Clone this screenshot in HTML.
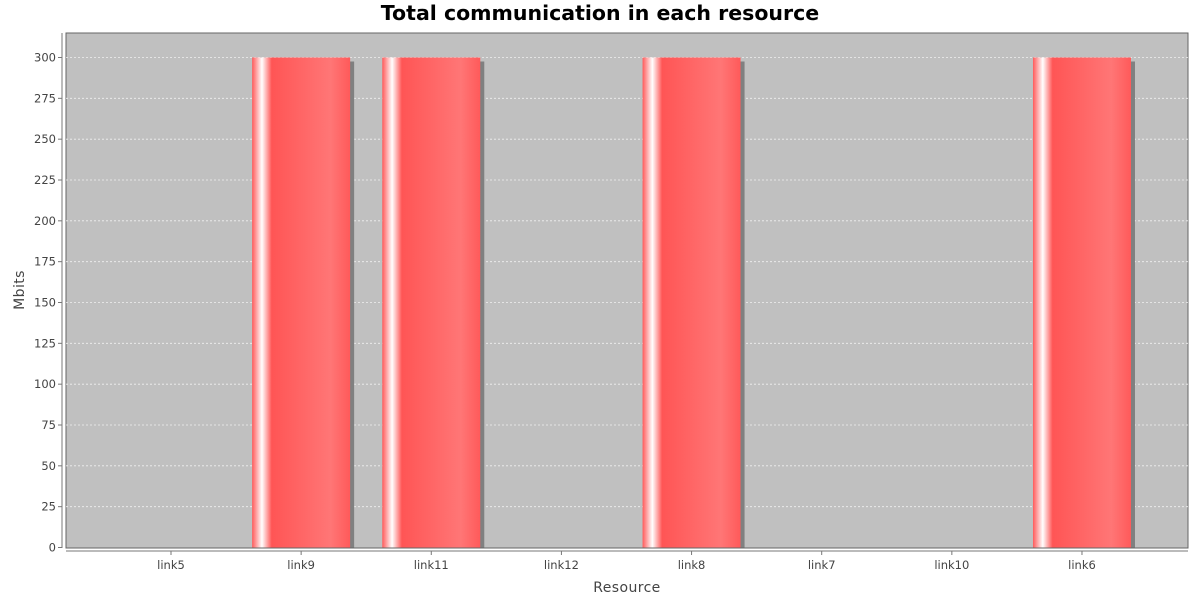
<!DOCTYPE html>
<html><head><meta charset="utf-8"><style>
body{margin:0;background:#fff;}
svg{display:block;font-family:"DejaVu Sans","Liberation Sans",sans-serif;}
</style></head><body>
<svg id="chart" width="1200" height="600">
<defs>
<linearGradient id="barGrad" x1="0" x2="1" y1="0" y2="0">
<stop offset="0" stop-color="#ff5a5a"/>
<stop offset="0.1" stop-color="#ffffff"/>
<stop offset="0.2" stop-color="#ff5555"/>
<stop offset="0.8" stop-color="#ff7676"/>
<stop offset="1" stop-color="#ff5a5a"/>
</linearGradient>
</defs>
<text x="600" y="20" text-anchor="middle" font-size="20.5" font-weight="bold" fill="#000">Total communication in each resource</text>
<rect x="66" y="33" width="1122" height="515" fill="#c0c0c0" stroke="#666" stroke-width="1"/>
<g id="grid"></g>
<g id="bars"></g>
<g id="yaxis"></g>
<g id="xaxis"></g>
<text x="0" y="0" transform="translate(24,290) rotate(-90)" text-anchor="middle" font-size="14" letter-spacing="0.4" fill="#444">Mbits</text>
<text x="627" y="592" text-anchor="middle" font-size="14" letter-spacing="0.4" fill="#444">Resource</text>
</svg>
<script>
const categories = ["link5","link9","link11","link12","link8","link7","link10","link6"];
const values = [0,300,300,0,300,0,0,300];
const yTicks = [0,25,50,75,100,125,150,175,200,225,250,275,300];
const NS="http://www.w3.org/2000/svg";
const plotL=66, plotR=1188, plotT=33, plotB=548;
function yScale(v){return 547.5-(v/300)*490;}
const step=130.14, first=171, barW=98;
function xCenter(i){return first+i*step;}
function mk(tag,attrs,parent){const e=document.createElementNS(NS,tag);for(const k in attrs)e.setAttribute(k,attrs[k]);parent.appendChild(e);return e;}
const grid=document.getElementById('grid'), bars=document.getElementById('bars'), ya=document.getElementById('yaxis'), xa=document.getElementById('xaxis');
mk('line',{x1:62,x2:62,y1:plotT,y2:plotB,stroke:'#777'},ya);
mk('line',{x1:plotL,x2:plotR,y1:551,y2:551,stroke:'#777'},xa);
yTicks.forEach(t=>{
  const y=yScale(t);
  if(t>0){
    const g=mk('line',{x1:plotL,x2:plotR,y1:y,y2:y,stroke:'#f0f0f0','stroke-dasharray':'2,2','stroke-width':0.8},grid);
    
    
  }
  mk('line',{x1:58,x2:62,y1:y,y2:y,stroke:'#777'},ya);
  const tx=mk('text',{x:56,y:y+4,'text-anchor':'end','font-size':11.5,fill:'#444'},ya);
  tx.textContent=t;
  
  
});
categories.forEach((c,i)=>{
  const cx=xCenter(i);
  mk('line',{x1:cx,x2:cx,y1:551,y2:555,stroke:'#777'},xa);
  const tx=mk('text',{x:cx,y:569,'text-anchor':'middle','font-size':11.5,fill:'#444'},xa);
  tx.textContent=c;
  
  
  const v=values[i];
  if(v>0){
    const y=yScale(v), h=547.5-y;
    const s=mk('rect',{x:cx-barW/2+4,y:y+4,width:barW,height:h-4,fill:'#808080'},bars);
    
    
    const b=mk('rect',{x:cx-barW/2,y:y,width:barW,height:h,fill:'url(#barGrad)'},bars);
    
    
  }
});
</script>
</body></html>
